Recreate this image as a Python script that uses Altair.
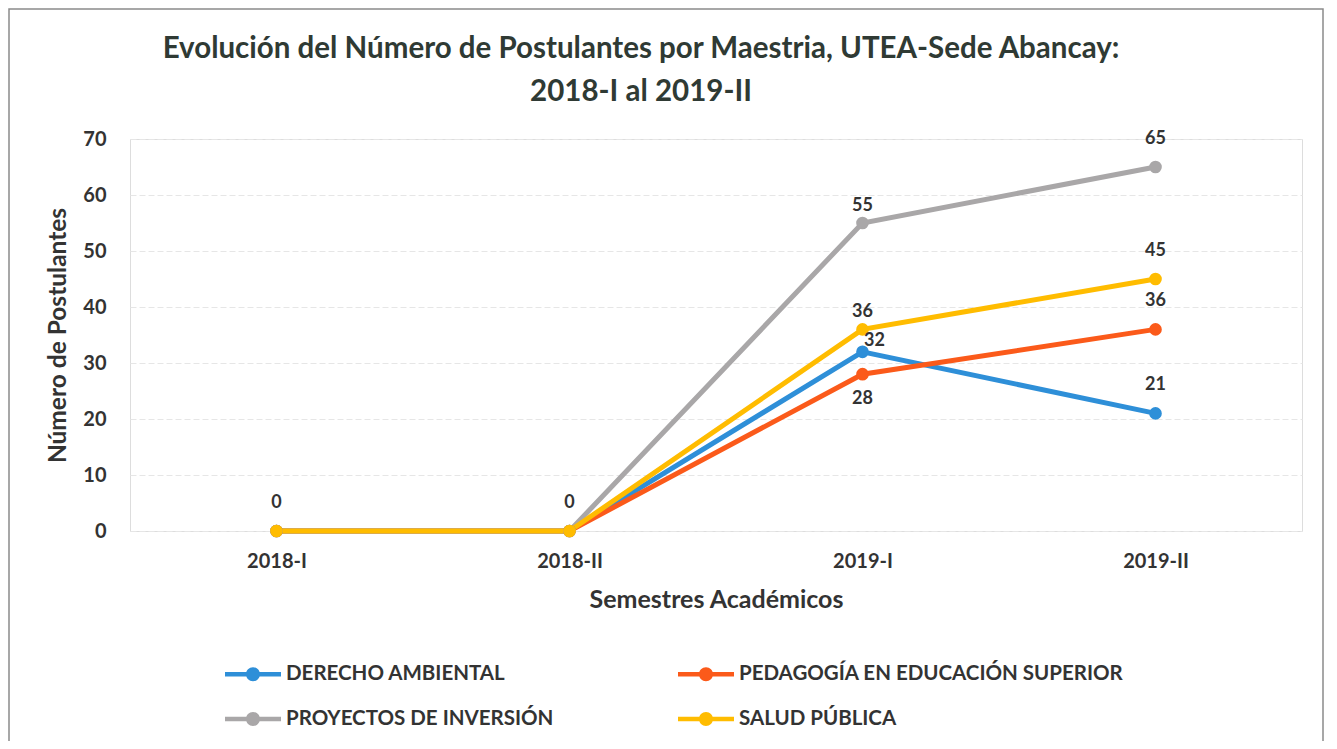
import altair as alt
import pandas as pd

semesters = ["2018-I", "2018-II", "2019-I", "2019-II"]
series = ["DERECHO AMBIENTAL", "PEDAGOGÍA EN EDUCACIÓN SUPERIOR", "PROYECTOS DE INVERSIÓN", "SALUD PÚBLICA"]
derecho = [0, 0, 32, 21]
pedagogia = [0, 0, 28, 36]
proyectos = [0, 0, 55, 65]
salud = [0, 0, 36, 45]
colors = ["#2E8FD8", "#FB5A1A", "#A9A7A8", "#FFBC00"]

title_lines = ["Evolución del Número de Postulantes por Maestria, UTEA-Sede Abancay:", "2018-I al 2019-II"]

# data labels: (series, semester, value, placement)
label_series = ["SALUD PÚBLICA", "SALUD PÚBLICA", "PROYECTOS DE INVERSIÓN", "SALUD PÚBLICA",
                "DERECHO AMBIENTAL", "PEDAGOGÍA EN EDUCACIÓN SUPERIOR",
                "PROYECTOS DE INVERSIÓN", "SALUD PÚBLICA", "PEDAGOGÍA EN EDUCACIÓN SUPERIOR", "DERECHO AMBIENTAL"]
label_sem = ["2018-I", "2018-II", "2019-I", "2019-I", "2019-I", "2019-I",
             "2019-II", "2019-II", "2019-II", "2019-II"]
label_val = [0, 0, 55, 36, 32, 28, 65, 45, 36, 21]
label_place = ["above", "above", "near", "near", "right", "below", "above", "above", "above", "above"]

rows = []
for name, vals in zip(series, [derecho, pedagogia, proyectos, salud]):
    for s, v in zip(semesters, vals):
        rows.append({"serie": name, "semestre": s, "valor": v})
df = pd.DataFrame(rows)
lab = pd.DataFrame({"serie": label_series, "semestre": label_sem, "valor": label_val, "pos": label_place})

FONT = "Lato"
TXT = "#333333"
W, H = 1172, 392

x_enc = alt.X("semestre:N", sort=semesters, scale=alt.Scale(type="point", padding=0.5),
              axis=alt.Axis(title="Semestres Académicos", labelAngle=0, ticks=False, domain=False,
                            labelPadding=20, titlePadding=16, labelFontSize=20, titleFontSize=25,
                            labelFont=FONT, titleFont=FONT, labelFontWeight="bold", titleFontWeight="bold",
                            labelColor=TXT, titleColor=TXT, grid=False))
y_enc = alt.Y("valor:Q", scale=alt.Scale(domain=[0, 70]),
              axis=alt.Axis(title="Número de Postulantes", values=list(range(0, 71, 10)), ticks=False,
                            domain=False, labelPadding=24, titlePadding=12, labelFontSize=20, titleFontSize=24.5,
                            labelFont=FONT, titleFont=FONT, labelFontWeight="bold", titleFontWeight="bold",
                            labelColor=TXT, titleColor=TXT, gridColor="#e6e6e6", gridWidth=1,
                            gridDash=[6, 3]))

color_scale = alt.Scale(domain=series, range=colors)

legend_symbol = ("M-1,-0.08L1,-0.08L1,0.08L-1,0.08Z "
                 "M0.25,0A0.25,0.25,0,1,1,-0.25,0A0.25,0.25,0,1,1,0.25,0Z")

lines = alt.Chart(df).mark_line(strokeWidth=5).encode(
    x=x_enc, y=y_enc,
    color=alt.Color("serie:N", scale=color_scale, sort=series, legend=None),
)

points = alt.Chart(df).mark_circle(size=160, opacity=1).encode(
    x=alt.X("semestre:N", sort=semesters), y="valor:Q",
    color=alt.Color("serie:N", scale=color_scale, sort=series,
                    legend=alt.Legend(title=None, orient="none", legendX=95, legendY=507, columns=2,
                                      direction="horizontal",
                                      symbolType=legend_symbol, symbolSize=3136, symbolStrokeWidth=0,
                                      symbolOpacity=1,
                                      labelFont=FONT, labelFontSize=20.5, labelFontWeight="bold",
                                      labelColor=TXT, labelOffset=5, rowPadding=6, columnPadding=124,
                                      labelLimit=600, padding=0)),
)

def text_layer(pos, dx, dy):
    return alt.Chart(lab).transform_filter(alt.datum.pos == pos).mark_text(
        font=FONT, fontSize=18, fontWeight="bold", color=TXT, dx=dx, dy=dy
    ).encode(x=alt.X("semestre:N", sort=semesters), y="valor:Q", text="valor:Q")

texts = (text_layer("above", 0, -28) + text_layer("near", 0, -17) +
         text_layer("right", 12, -11) + text_layer("below", 0, 25))

one = pd.DataFrame({"a": [0]})
border = alt.Chart(one).mark_rect(
    fill="transparent", stroke="#8a8a8a", strokeWidth=1.5
).encode(x=alt.value(-121), x2=alt.value(W + 21), y=alt.value(-130), y2=alt.value(H + 260))

title1 = alt.Chart(one).mark_text(
    text=title_lines[0], font=FONT, fontSize=29.5, fontWeight="bold", color="#2F3A34", baseline="middle"
).encode(x=alt.value(511), y=alt.value(-90))
title2 = alt.Chart(one).mark_text(
    text=title_lines[1], font=FONT, fontSize=29.5, fontWeight="bold", color="#2F3A34", baseline="middle"
).encode(x=alt.value(511), y=alt.value(-47))

chart = alt.layer(border, title1, title2, lines, points, texts).resolve_legend(
    color="independent"
).properties(
    width=W, height=H,
    autosize=alt.AutoSizeParams(type="none"),
    padding={"left": 122, "top": 131, "right": 27, "bottom": 210},
).configure_view(strokeWidth=0).configure(background="white")

chart.save("out.html", embed_options={"renderer": "svg", "actions": False})
